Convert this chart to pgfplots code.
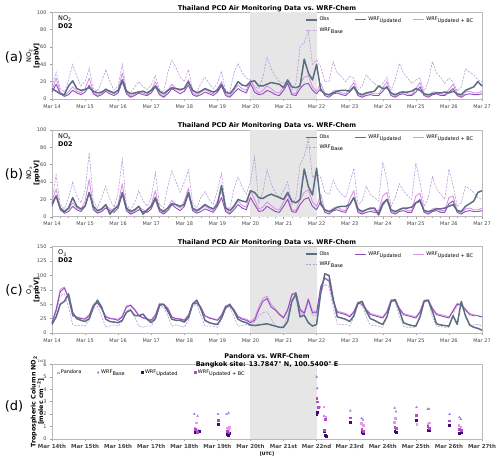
\documentclass[border=0pt]{standalone}
\usepackage{pgfplots}
\pgfplotsset{compat=1.18}
\usepackage{pgfplotstable}
\usepackage{fontspec}
\setmainfont{DejaVu Sans}
\definecolor{obsc}{HTML}{5A6E82}
\definecolor{basec}{HTML}{BB9ADB}
\definecolor{updc}{HTML}{8C4DB8}
\definecolor{bcc}{HTML}{DD92EA}
\definecolor{shadec}{HTML}{E6E6E6}
\definecolor{tickc}{HTML}{444444}
\definecolor{pandc}{HTML}{E49AE6}
\definecolor{dbase}{HTML}{9C80E6}
\definecolor{dupd}{HTML}{3E0A78}
\definecolor{dbc}{HTML}{B44AC8}

\pgfplotstableread{
d obs base upd bc
0.000 12 15 8 10
0.125 9 31 17 24
0.250 6 12 6 8
0.375 5 8 3 4
0.500 15 22 5 8
0.625 21 40 10 14
0.750 12 26 7 9
0.875 10 15 5 7
1.000 11 20 8 12
1.125 13 36 16 24
1.250 9 12 6 8
1.375 7 9 3 4
1.500 8 20 5 7
1.625 11 34 9 12
1.750 9 20 6 8
1.875 7 10 4 6
2.000 10 15 7 10
2.125 22 40 20 30
2.250 9 10 6 8
2.375 6 7 2 3
2.500 7 14 4 6
2.625 8 20 7 9
2.750 9 14 5 7
2.875 7 11 4 5
3.000 10 16 7 10
3.125 15 27 14 20
3.250 9 11 5 7
3.375 6 8 2 3
3.500 10 30 6 9
3.625 13 45 12 17
3.750 12 36 9 12
3.875 11 25 6 9
4.000 12 20 9 13
4.125 20 34 16 22
4.250 10 11 5 7
4.375 7 8 3 4
4.500 9 18 5 8
4.625 12 25 8 11
4.750 10 18 6 8
4.875 8 12 4 6
5.000 10 18 8 12
5.125 17 32 15 20
5.250 8 9 4 6
5.375 6 8 2 3
5.500 12 30 7 10
5.625 20 41 12 16
5.750 16 30 9 12
5.875 15 24 7 10
6.000 20 22 18 22
6.125 21 14 8 12
6.250 15 12 5 7
6.375 15 25 6 10
6.500 17 48 10 15
6.625 19 35 8 12
6.750 18 26 5 8
6.875 17 20 4 7
7.000 13 18 10 14
7.125 22 20 18 20
7.250 14 10 5 7
7.375 13 18 4 6
7.500 15 60 12 18
7.625 46 65 17 25
7.750 30 78 18 27
7.875 22 40 10 14
8.000 40 45 6 9
8.125 10 37 12 18
8.250 6 20 4 6
8.375 5 20 2 4
8.500 7 43 6 9
8.625 9 30 7 10
8.750 10 26 5 7
8.875 10 20 4 6
9.000 9 26 8 12
9.125 14 24 14 19
9.250 7 10 4 6
9.375 5 15 2 3
9.500 7 28 4 6
9.625 8 22 5 7
9.750 9 18 4 6
9.875 15 14 4 6
10.000 12 18 9 13
10.125 13 25 15 20
10.250 7 10 4 6
10.375 5 22 2 3
10.500 7 41 5 8
10.625 8 30 6 9
10.750 8 24 4 6
10.875 9 18 4 5
11.000 12 22 8 12
11.125 10 24 14 19
11.250 6 9 4 6
11.375 5 20 2 3
11.500 6 43 5 8
11.625 7 30 6 8
11.750 7 25 4 6
11.875 8 18 4 5
12.000 7 24 8 11
12.125 9 20 12 17
12.250 6 9 4 6
12.375 5 14 2 3
12.500 10 35 5 8
12.625 12 31 6 9
12.750 14 28 5 7
12.875 20 22 5 7
13.000 15 20 6 9
}\tabA

\pgfplotstableread{
d obs base upd bc
0.000 15 20 12 18
0.125 24 48 24 32
0.250 10 14 8 10
0.375 6 9 4 5
0.500 10 22 6 9
0.625 22 40 12 16
0.750 12 24 8 10
0.875 9 16 6 8
1.000 12 30 12 18
1.125 28 74 28 43
1.250 12 18 8 10
1.375 7 10 4 5
1.500 9 22 6 8
1.625 14 35 10 13
1.750 3 20 7 9
1.875 9 11 5 7
2.000 12 28 10 15
2.125 28 66 26 38
2.250 10 14 7 9
2.375 6 8 3 4
2.500 8 16 5 7
2.625 12 30 8 11
2.750 3 18 6 8
2.875 8 12 5 6
3.000 12 22 9 14
3.125 22 51 20 30
3.250 9 14 6 8
3.375 6 10 3 4
3.500 10 35 7 10
3.625 15 53 14 19
3.750 14 40 10 13
3.875 12 28 7 10
4.000 14 40 12 18
4.125 28 54 26 33
4.250 10 16 7 9
4.375 7 10 4 5
4.500 10 22 6 9
4.625 14 29 9 12
4.750 11 20 7 9
4.875 9 14 5 7
5.000 14 30 12 18
5.125 36 50 22 30
5.250 10 12 6 8
5.375 7 9 3 4
5.500 12 32 8 11
5.625 20 46 14 18
5.750 18 34 10 13
5.875 17 26 8 11
6.000 30 40 22 30
6.125 28 69 14 20
6.250 22 16 6 9
6.375 21 28 7 11
6.500 24 54 12 17
6.625 26 38 9 13
6.750 24 28 6 9
6.875 22 22 5 8
7.000 20 30 12 17
7.125 28 40 20 26
7.250 18 14 6 8
7.375 16 22 5 7
7.500 20 60 14 20
7.625 55 70 20 28
7.750 35 90 22 31
7.875 25 45 12 17
8.000 56 50 8 12
8.125 14 45 18 26
8.250 8 28 5 7
8.375 6 26 3 5
8.500 8 42 7 10
8.625 11 32 8 11
8.750 12 26 6 8
8.875 12 22 5 7
9.000 14 38 14 20
9.125 22 56 22 30
9.250 9 14 5 7
9.375 6 18 3 4
9.500 8 35 5 8
9.625 10 26 6 8
9.750 10 22 5 7
9.875 2 18 5 7
10.000 14 63 16 24
10.125 20 42 20 28
10.250 8 12 5 7
10.375 6 22 3 4
10.500 8 38 6 9
10.625 10 30 7 10
10.750 10 24 5 7
10.875 11 20 5 7
11.000 16 62 16 24
11.125 18 40 20 27
11.250 7 12 5 7
11.375 6 22 3 4
11.500 7 46 6 9
11.625 9 32 7 10
11.750 9 26 5 7
11.875 10 20 5 7
12.000 12 55 15 22
12.125 14 36 18 24
12.250 7 12 5 7
12.375 6 16 3 4
12.500 12 35 6 9
12.625 15 32 7 10
12.750 18 28 6 8
12.875 28 22 6 8
13.000 30 20 7 10
}\tabB

\pgfplotstableread{
d obs base upd bc
0.000 15 15 18 18
0.125 28 35 40 42
0.250 50 65 72 76
0.375 55 68 78 80
0.500 68 45 60 62
0.625 35 15 30 32
0.750 25 12 27 28
0.875 22 14 25 26
1.000 20 12 24 25
1.125 25 22 30 32
1.250 45 42 48 50
1.375 57 46 52 54
1.500 45 30 42 44
1.625 24 10 28 29
1.750 20 12 25 26
1.875 19 14 24 25
2.000 18 12 22 24
2.125 22 20 28 30
2.250 36 38 45 47
2.375 40 42 48 49
2.500 30 28 40 42
2.625 30 12 30 31
2.750 33 10 26 27
2.875 24 12 24 25
3.000 18 12 22 23
3.125 25 24 30 32
3.250 48 44 50 52
3.375 50 46 50 50
3.500 38 30 42 44
3.625 24 12 28 28
3.750 22 14 25 25
3.875 22 12 24 25
4.000 19 10 22 23
4.125 27 22 30 32
4.250 50 46 50 52
4.375 57 50 52 55
4.500 42 30 44 46
4.625 22 12 30 30
4.750 18 12 26 27
4.875 16 12 24 25
5.000 15 10 22 23
5.125 26 24 30 32
5.250 44 42 46 48
5.375 50 46 47 49
5.500 38 28 40 42
5.625 24 12 28 29
5.750 20 13 24 26
5.875 18 15 22 24
6.000 14 12 18 20
6.125 13 20 22 26
6.250 14 30 40 45
6.375 15 35 55 60
6.500 16 37 60 64
6.625 14 25 45 50
6.750 12 12 40 42
6.875 10 10 32 34
7.000 10 12 26 28
7.125 20 30 40 42
7.250 55 58 66 68
7.375 68 60 70 70
7.500 28 35 40 42
7.625 31 30 34 36
7.750 18 55 58 60
7.875 12 30 35 38
8.000 15 30 35 37
8.125 70 70 80 82
8.250 103 85 95 96
8.375 100 80 90 92
8.500 60 45 55 57
8.625 28 15 36 38
8.750 26 14 34 36
8.875 24 15 32 34
9.000 20 12 28 30
9.125 30 28 36 38
9.250 52 50 52 54
9.375 55 48 50 52
9.500 38 28 40 42
9.625 25 14 32 34
9.750 22 13 30 32
9.875 18 12 28 30
10.000 15 10 26 28
10.125 28 28 36 38
10.250 55 54 56 58
10.375 58 55 57 58
10.500 40 30 42 44
10.625 18 12 32 34
10.750 15 10 30 32
10.875 13 10 28 30
11.000 12 10 26 28
11.125 28 28 36 38
11.250 55 54 56 57
11.375 57 55 56 58
11.500 38 28 42 44
11.625 16 12 32 34
11.750 14 11 30 32
11.875 13 10 28 30
12.000 12 10 26 28
12.125 30 30 38 40
12.250 15 48 50 52
12.375 55 50 48 50
12.500 30 30 40 42
12.625 14 14 32 34
12.750 10 14 30 32
12.875 8 15 30 30
13.000 5 12 28 28
}\tabC

\pgfplotstableread{
d v
4.32 0.90
4.36 1.30
4.40 0.75
4.44 0.65
5.28 0.90
5.32 0.70
5.36 0.95
8.08 2.60
8.22 2.60
8.28 1.75
9.35 1.26
9.40 1.10
10.34 1.37
10.38 1.66
11.02 1.20
11.36 1.18
11.40 1.30
12.30 1.10
12.36 1.00
}\dPand
\pgfplotstableread{
d v
4.30 2.00
4.40 1.85
5.02 2.00
5.28 2.00
5.34 2.10
8.00 5.00
8.02 4.07
8.22 1.85
9.02 2.27
9.36 1.66
9.40 1.55
10.36 2.50
10.40 2.20
11.02 2.55
11.36 2.40
11.40 2.42
12.02 2.00
12.32 1.74
12.36 1.60
}\dBase
\pgfplotstableread{
d v
4.32 0.55
4.38 0.50
4.44 0.60
5.02 1.20
5.28 0.40
5.32 0.30
5.36 0.45
8.00 2.00
8.02 2.15
8.22 0.59
8.26 0.32
8.28 0.25
9.02 1.34
9.36 0.56
9.40 0.45
10.36 0.64
10.40 0.55
11.02 1.53
11.36 0.72
11.40 0.70
12.02 1.10
12.32 0.45
12.36 0.50
}\dUpd
\pgfplotstableread{
d v
4.34 0.80
4.40 0.55
5.02 1.50
5.30 0.60
5.34 0.50
8.00 3.30
8.02 3.00
8.04 2.57
8.22 0.70
8.26 1.60
9.02 1.71
9.36 0.78
9.40 0.65
10.36 0.94
10.40 0.85
11.02 1.90
11.36 1.00
11.40 0.90
12.02 1.47
12.32 0.78
12.36 0.70
}\dBC

\pgfplotsset{
  panel/.style={
    scale only axis, width=430pt,
    xmin=0, xmax=13, xtick={0,1,...,13},
    enlargelimits=false, clip=false,
    tick pos=left, tick align=outside,
    major tick length=2pt, minor tick length=1.2pt,
    axis line style={draw=gray!55, line width=0.7pt},
    tick style={draw=gray!75, line width=0.4pt},
    ticklabel style={font=\fontsize{5}{6}\selectfont, text=tickc},
    /pgf/number format/assume math mode=true,
    ylabel style={align=center, font=\fontsize{6.5}{7.5}\selectfont, at={(rel axis cs:-0.044,0.5)}, anchor=center},
    title style={font=\bfseries\fontsize{6.5}{7.5}\selectfont, at={(0.5,1)}, anchor=south, yshift=-6.5pt, inner sep=1pt},
  },
  ts/.style={panel, height=86.7pt, minor x tick num=3,
    xticklabels={Mar 14,Mar 15,Mar 16,Mar 17,Mar 18,Mar 19,Mar 20,Mar 21,Mar 22,Mar 23,Mar 24,Mar 25,Mar 26,Mar 27},
    title={Thailand PCD Air Monitoring Data vs.\ WRF-Chem},
    legend style={at={(0.588,0.969)}, anchor=north west, draw=none, fill=none, inner sep=0pt,
      font=\fontsize{5}{6}\selectfont, legend columns=3,
      /tikz/every even column/.append style={column sep=9pt}, row sep=1pt},
    legend cell align=left,
    legend image code/.code={\draw[##1] (0pt,0pt) -- (11pt,0pt);},
  },
  obsst/.style={color=obsc, line width=1.5pt, line join=round},
  basest/.style={color=basec, line width=0.6pt, dash pattern=on 2.2pt off 1.2pt},
  updst/.style={color=updc, line width=0.9pt, line join=round},
  bcst/.style={color=bcc, line width=0.9pt, line join=round},
}

\newcommand{\legs}{%
  \addlegendimage{obsst}\addlegendentry{Obs}
  \addlegendimage{updst}\addlegendentry{WRF\textsubscript{Updated}}
  \addlegendimage{bcst}\addlegendentry{WRF\textsubscript{Updated + BC}}
  \addlegendimage{basest}\addlegendentry{WRF\textsubscript{Base}}
}

\begin{document}
\begin{tikzpicture}
\useasboundingbox (0,0) rectangle (500pt,459pt);

% (a)
\begin{axis}[ts, at={(52pt,360pt)}, anchor=south west,
  ymin=0, ymax=100, ytick={0,20,...,100},
  ylabel={NO\textsubscript{2}\\\textbf{[ppbV]}}]
\fill[shadec] (axis cs:6,0) rectangle (axis cs:8,100);
\legs
\addplot[basest, forget plot] table[x=d, y=base] {\tabA};
\addplot[bcst, forget plot] table[x=d, y=bc] {\tabA};
\addplot[updst, forget plot] table[x=d, y=upd] {\tabA};
\addplot[obsst, forget plot] table[x=d, y=obs] {\tabA};
\node[anchor=north west, align=left, font=\fontsize{6.5}{8}\selectfont, inner sep=0pt] at (rel axis cs:0.014,0.965) {NO\textsubscript{2}\\\textbf{D02}};
\end{axis}
\node[font=\fontsize{13}{14}\selectfont] at (14pt,402pt) {(a)};

% (b)
\begin{axis}[ts, at={(52pt,242.3pt)}, anchor=south west,
  ymin=0, ymax=100, ytick={0,20,...,100},
  ylabel={NO\textsubscript{x}\\\textbf{[ppbV]}}]
\fill[shadec] (axis cs:6,0) rectangle (axis cs:8,100);
\legs
\addplot[basest, forget plot] table[x=d, y=base] {\tabB};
\addplot[bcst, forget plot] table[x=d, y=bc] {\tabB};
\addplot[updst, forget plot] table[x=d, y=upd] {\tabB};
\addplot[obsst, forget plot] table[x=d, y=obs] {\tabB};
\node[anchor=north west, align=left, font=\fontsize{6.5}{8}\selectfont, inner sep=0pt] at (rel axis cs:0.014,0.965) {NO\textsubscript{x}\\\textbf{D02}};
\end{axis}
\node[font=\fontsize{13}{14}\selectfont] at (14pt,285pt) {(b)};

% (c)
\begin{axis}[ts, height=86.3pt, at={(52pt,126pt)}, anchor=south west,
  ymin=0, ymax=150, ytick={0,25,...,150},
  ylabel={O\textsubscript{3}\\\textbf{[ppbV]}}]
\fill[shadec] (axis cs:6,0) rectangle (axis cs:8,150);
\legs
\addplot[basest, forget plot] table[x=d, y=base] {\tabC};
\addplot[bcst, forget plot] table[x=d, y=bc] {\tabC};
\addplot[updst, forget plot] table[x=d, y=upd] {\tabC};
\addplot[obsst, forget plot] table[x=d, y=obs] {\tabC};
\node[anchor=north west, align=left, font=\fontsize{6.5}{8}\selectfont, inner sep=0pt] at (rel axis cs:0.014,0.965) {O\textsubscript{3}\\\textbf{D02}};
\end{axis}
\node[font=\fontsize{13}{14}\selectfont] at (14pt,169pt) {(c)};

% (d)
\begin{axis}[panel, height=74.7pt, at={(52pt,20pt)}, anchor=south west,
  ymin=0, ymax=6, ytick={0,1,...,6},
  xticklabels={Mar 14th,Mar 15th,Mar 16th,Mar 17th,Mar 18th,Mar 19th,Mar 20th,Mar 21st,Mar 22nd,Mar 23rd,Mar 24th,Mar 25th,Mar 26th,Mar 27th},
  xticklabel style={font=\bfseries\fontsize{5.5}{6}\selectfont},
  xlabel={[UTC]}, xlabel style={font=\bfseries\fontsize{4.5}{5}\selectfont, yshift=4pt},
  ylabel={\textbf{Tropospheric Column NO\textsubscript{2}}\\\textbf{[molec cm\textsuperscript{−2}]}},
  ylabel style={at={(rel axis cs:-0.034,0.5)}, font=\fontsize{6.3}{7.5}\selectfont},
  title={Pandora vs.\ WRF-Chem\\Bangkok site: 13.7847° N, 100.5400° E},
  title style={align=center, font=\bfseries\fontsize{6.5}{7.3}\selectfont, yshift=-4pt},
  legend style={at={(0.012,0.955)}, anchor=north west, draw=none, fill=none, inner sep=0pt,
    font=\fontsize{5}{6}\selectfont, legend columns=4,
    /tikz/every even column/.append style={column sep=14pt}},
  legend cell align=left]
\fill[shadec] (axis cs:6,0) rectangle (axis cs:8,6);
\addplot[only marks, mark=square*, mark size=0.8pt, color=pandc] table[x=d, y=v] {\dPand};
\addlegendentry{Pandora}
\addplot[only marks, mark=triangle*, mark size=1.1pt, color=dbase] table[x=d, y=v] {\dBase};
\addlegendentry{WRF\textsubscript{Base}}
\addplot[only marks, mark=square*, mark size=0.9pt, color=dupd] table[x=d, y=v] {\dUpd};
\addlegendentry{WRF\textsubscript{Updated}}
\addplot[only marks, mark=square*, mark size=0.9pt, color=dbc] table[x=d, y=v] {\dBC};
\addlegendentry{WRF\textsubscript{Updated + BC}}
\node[anchor=south east, font=\fontsize{3.5}{4}\selectfont, text=tickc, inner sep=0.5pt] at (rel axis cs:-0.012,1.02) {1e16};
\end{axis}
\node[font=\fontsize{13}{14}\selectfont] at (14pt,53pt) {(d)};
\end{tikzpicture}
\end{document}
